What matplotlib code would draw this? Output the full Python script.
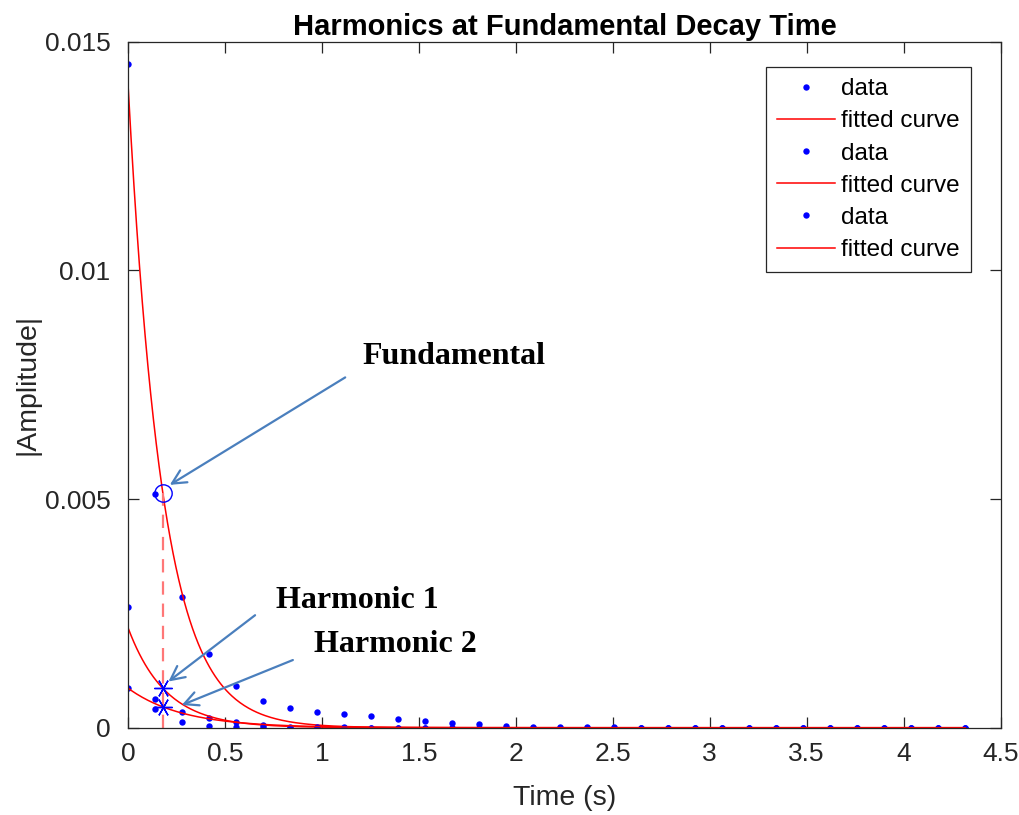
import numpy as np
import matplotlib
matplotlib.use("Agg")
import matplotlib.pyplot as plt

# Frame step between spectral snapshots (s)
dt = 0.1393
n_frames = 32

# Measured |amplitude| of each partial per frame
fundamental = [0.01451, 0.00511, 0.00286, 0.00161, 0.00092, 0.00059, 0.00044, 0.00035,
               0.00030, 0.00025, 0.00020, 0.00015, 0.00011, 0.00008, 0.00004, 0.00001,
               0.00001, 0.00001, 0.00001, 0.0, 0.0, 0.0, 0.0, 0.0,
               0.0, 0.0, 0.0, 0.0, 0.0, 0.0, 0.0, 0.0]
harmonic1 = [0.00265, 0.00062, 0.00034, 0.00021, 0.00013, 0.00006, 0.00002, 0.00001,
             0.00001, 0.0, 0.0, 0.0, 0.0, 0.0, 0.0, 0.0,
             0.0, 0.0, 0.0, 0.0, 0.0, 0.0, 0.0, 0.0,
             0.0, 0.0, 0.0, 0.0, 0.0, 0.0, 0.0, 0.0]
harmonic2 = [0.00087, 0.00041, 0.00012, 0.00004, 0.00002, 0.00001, 0.0, 0.0,
             0.0, 0.0, 0.0, 0.0, 0.0, 0.0, 0.0, 0.0,
             0.0, 0.0, 0.0, 0.0, 0.0, 0.0, 0.0, 0.0,
             0.0, 0.0, 0.0, 0.0, 0.0, 0.0, 0.0, 0.0]

# Exponential fits a*exp(-t/tau)
fit_amp = [0.01396, 0.00217, 0.00086]
fit_tau = [0.178, 0.193, 0.280]

x_ticks = [0, 0.5, 1, 1.5, 2, 2.5, 3, 3.5, 4, 4.5]
x_tick_labels = ["0", "0.5", "1", "1.5", "2", "2.5", "3", "3.5", "4", "4.5"]
y_ticks = [0, 0.005, 0.01, 0.015]
y_tick_labels = ["0", "0.005", "0.01", "0.015"]

plt.rcParams['font.family'] = ['Liberation Sans', 'DejaVu Sans']
axis_gray = '#262626'

fig = plt.figure(figsize=(10.2, 8.15), dpi=100)
ax = fig.add_axes([0.1258, 0.1071, 0.8551, 0.8417])

t = np.arange(n_frames) * dt
t_fit = np.linspace(0, t[-1], 600)

series = [fundamental, harmonic1, harmonic2]
for vals, a, tau in zip(series, fit_amp, fit_tau):
    ax.plot(t, vals, 'o', color='blue', markersize=4.6, markeredgewidth=0, label='data')
    ax.plot(t_fit, a * np.exp(-t_fit / tau), '-', color='red', lw=1.1, label='fitted curve')

leg = ax.legend(loc='upper right', bbox_to_anchor=(0.966, 0.963), borderaxespad=0,
                fontsize=17.5, handlelength=2.4, handletextpad=0.25, labelspacing=0.42,
                borderpad=0.45, fancybox=False, framealpha=1, edgecolor=axis_gray,
                markerscale=1.0)
leg.get_frame().set_linewidth(0.9)

# Decay time of the fundamental and each partial's fitted value there
decay_t = fit_tau[0]
decay_vals = [a * np.exp(-decay_t / tau) for a, tau in zip(fit_amp, fit_tau)]
ax.plot([decay_t, decay_t], [0, decay_vals[0]], '--', color='#ff7777', lw=1.6,
        dashes=(6, 4))
ax.plot(decay_t, decay_vals[0], 'o', markerfacecolor='none', markeredgecolor='blue',
        markersize=12.5, markeredgewidth=1.0)
ax.plot([decay_t, decay_t], decay_vals[1:], linestyle='none', marker=(6, 2, 90),
        color='blue', markersize=13, markeredgewidth=1.0)

arrow_color = '#4a7fbd'
arrow_kw = dict(arrowstyle='->,head_length=1.0,head_width=0.5', color=arrow_color,
                lw=1.6, shrinkA=0, shrinkB=0)
label_font = dict(family=['Liberation Serif', 'DejaVu Serif'], fontweight='bold',
                  fontsize=23, color='black', va='center', ha='left')

ax.annotate('', xy=(0.214, 0.00531), xytext=(1.119, 0.00766), arrowprops=arrow_kw)
ax.text(1.207, 0.00811, 'Fundamental', **label_font)
ax.annotate('', xy=(0.207, 0.00101), xytext=(0.654, 0.00246), arrowprops=arrow_kw)
ax.text(0.763, 0.00279, 'Harmonic 1', **label_font)
ax.annotate('', xy=(0.276, 0.000496), xytext=(0.849, 0.00148), arrowprops=arrow_kw)
ax.text(0.959, 0.00181, 'Harmonic 2', **label_font)

ax.set_xlim(0, 4.5)
ax.set_ylim(0, 0.015)
ax.set_xticks(x_ticks)
ax.set_xticklabels(x_tick_labels)
ax.set_yticks(y_ticks)
ax.set_yticklabels(y_tick_labels)
ax.tick_params(direction='in', length=8, width=0.9, colors=axis_gray, labelsize=19,
               top=True, right=True)
ax.tick_params(axis='x', pad=10)
ax.tick_params(axis='y', pad=13)
for s in ax.spines.values():
    s.set_color(axis_gray)
    s.set_linewidth(0.9)

ax.set_xlabel('Time (s)', fontsize=20.5, color=axis_gray, labelpad=14)
ax.set_ylabel('|Amplitude|', fontsize=20.5, color=axis_gray, labelpad=3)
ax.set_title('Harmonics at Fundamental Decay Time', fontsize=21, fontweight='bold',
             color='black', pad=5)

fig.savefig('out.png', dpi=100)
